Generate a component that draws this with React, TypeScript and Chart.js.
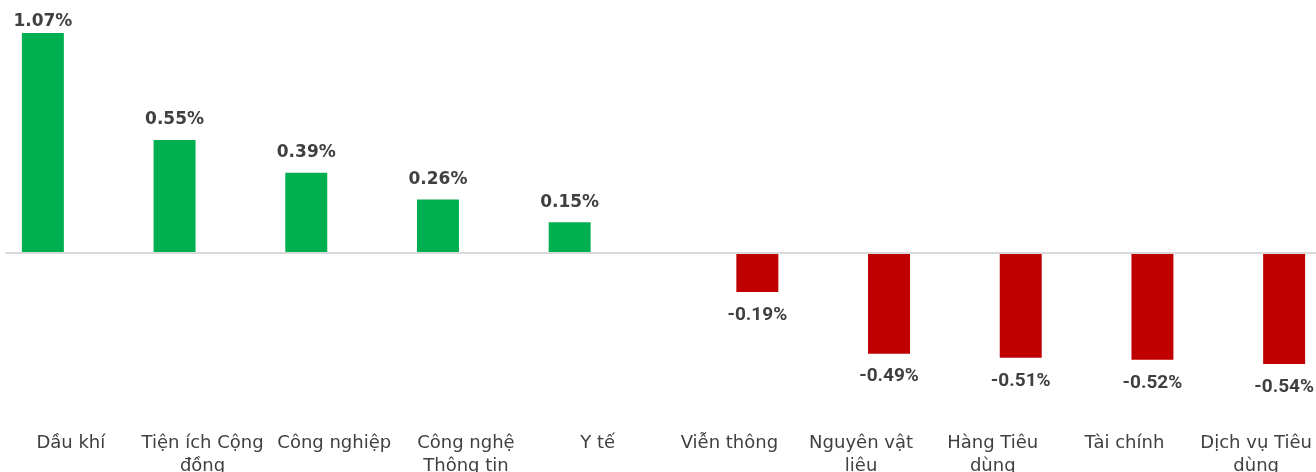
import React, { useEffect, useRef } from 'react';
import { Chart, registerables } from 'chart.js';

Chart.register(...registerables);

const categories: string[][] = [
  ['Dầu khí'],
  ['Tiện ích Cộng', 'đồng'],
  ['Công nghiệp'],
  ['Công nghệ', 'Thông tin'],
  ['Y tế'],
  ['Viễn thông'],
  ['Nguyên vật', 'liệu'],
  ['Hàng Tiêu', 'dùng'],
  ['Tài chính'],
  ['Dịch vụ Tiêu', 'dùng'],
];
const gainValues: (number | null)[] = [1.07, 0.55, 0.39, 0.26, 0.15, null, null, null, null, null];
const lossValues: (number | null)[] = [null, null, null, null, null, -0.19, -0.49, -0.51, -0.52, -0.54];

const TEXT = '#404040';

const zeroLine = {
  id: 'zeroLine',
  afterDatasetsDraw(chart: any) {
    const y = chart.scales.y.getPixelForValue(0);
    const ctx = chart.ctx;
    ctx.save();
    ctx.strokeStyle = '#D9D9D9';
    ctx.lineWidth = 2;
    ctx.beginPath();
    ctx.moveTo(chart.chartArea.left, y);
    ctx.lineTo(chart.width, y);
    ctx.stroke();
    ctx.restore();
  },
};

const valueLabels = {
  id: 'valueLabels',
  afterDatasetsDraw(chart: any) {
    const ctx = chart.ctx;
    chart.data.datasets.forEach((ds: any, di: number) => {
      const meta = chart.getDatasetMeta(di);
      meta.data.forEach((el: any, i: number) => {
        const v = ds.data[i];
        if (v === null || v === undefined) return;
        const txt = v.toFixed(2) + '%';
        ctx.save();
        ctx.fillStyle = TEXT;
        ctx.textAlign = 'center';
        ctx.textBaseline = 'middle';
        if (v >= 0) {
          ctx.font = 'bold 17px "DejaVu Sans"';
          ctx.fillText(txt, el.x, Math.max(el.y - 20, 22));
        } else {
          ctx.font = 'bold 19px Roboto';
          ctx.fillText(txt, el.x, el.y + 23);
        }
        ctx.restore();
      });
    });
  },
};

export default function App() {
  const ref = useRef<HTMLCanvasElement | null>(null);
  useEffect(() => {
    if (!ref.current) return;
    const chart = new Chart(ref.current, {
      type: 'bar',
      data: {
        labels: categories,
        datasets: [
          {
            label: 'Tăng',
            data: gainValues,
            backgroundColor: '#00B050',
            categoryPercentage: 0.85,
            barPercentage: 0.75,
          },
          {
            label: 'Giảm',
            data: lossValues,
            backgroundColor: '#C00000',
            categoryPercentage: 0.85,
            barPercentage: 0.75,
          },
        ],
      },
      options: {
        animation: false,
        responsive: true,
        maintainAspectRatio: false,
        layout: { padding: { left: 5, right: 0, top: 6.4, bottom: 0 } },
        plugins: {
          legend: { display: false },
          tooltip: { enabled: false },
        },
        scales: {
          x: {
            grid: { display: false, drawTicks: false },
            border: { display: false },
            ticks: {
              autoSkip: false,
              maxRotation: 0,
              minRotation: 0,
              padding: 14,
              color: TEXT,
              font: { family: '"DejaVu Sans"', size: 18, lineHeight: 1.28 },
            },
            afterFit(scale: any) {
              scale.height = 54.6;
              scale.paddingLeft = 0;
              scale.paddingRight = 0;
            },
          },
          y: {
            display: false,
            min: -0.8,
            max: 1.2,
          },
        },
      },
      plugins: [zeroLine, valueLabels],
    });
    return () => chart.destroy();
  }, []);

  return (
    <div style={{ position: 'fixed', left: 0, top: 0, width: 1316, height: 472, overflow: 'hidden', background: '#fff' }}>
      <div style={{ position: 'relative', width: 1322, height: 472 }}>
        <canvas ref={ref} />
      </div>
    </div>
  );
}
